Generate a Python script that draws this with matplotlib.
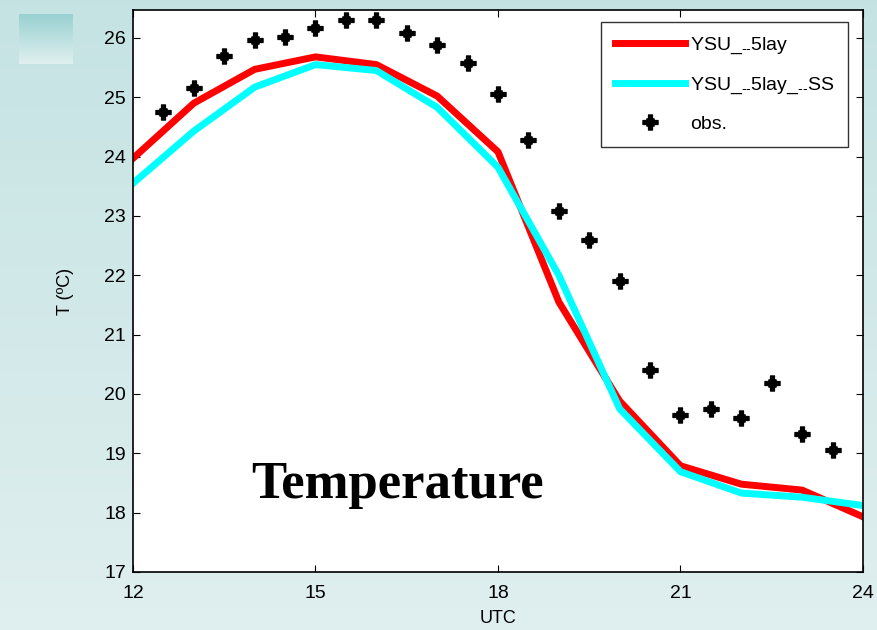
import numpy as np
import matplotlib
matplotlib.use("Agg")
import matplotlib.pyplot as plt
from matplotlib.path import Path

plt.rcParams["font.family"] = ["Liberation Sans", "DejaVu Sans"]
plt.rcParams["mathtext.fontset"] = "custom"
plt.rcParams["mathtext.rm"] = "Liberation Sans"

# model output, hourly
hours = [12, 13, 14, 15, 16, 17, 18, 19, 20, 21, 22, 23, 24]
t_ysu = [23.97, 24.9, 25.47, 25.68, 25.55, 25.02, 24.08, 21.55, 19.88, 18.79, 18.48, 18.38, 17.93]
t_ysu_ss = [23.55, 24.43, 25.17, 25.55, 25.45, 24.83, 23.82, 22.0, 19.75, 18.69, 18.33, 18.26, 18.12]

# observations, half-hourly
obs_hours = [12.5, 13, 13.5, 14, 14.5, 15, 15.5, 16, 16.5, 17, 17.5, 18,
             18.5, 19, 19.5, 20, 20.5, 21, 21.5, 22, 22.5, 23, 23.5]
t_obs = [24.75, 25.15, 25.69, 25.97, 26.02, 26.17, 26.3, 26.3, 26.08, 25.88, 25.58, 25.06,
         24.28, 23.08, 22.59, 21.9, 20.4, 19.65, 19.74, 19.6, 20.19, 19.32, 19.05]

# marker: thick plus with bumped corners (looks like matlab's bold "*")
h = 0.27
q = [(h, 1.0), (h, 0.5), (0.48, 0.48), (0.5, h), (1.0, h)]
pts = []
for sx, sy, flip in [(1, 1, False), (1, -1, True), (-1, -1, False), (-1, 1, True)]:
    quad = [(sx * x, sy * y) for x, y in q]
    pts += quad[::-1] if flip else quad
pts.append(pts[0])
star = Path(pts, closed=True)

fig = plt.figure(figsize=(8.78, 6.3), dpi=100)

# background gradient
bg = fig.add_axes([0, 0, 1, 1], zorder=-10)
grad = np.linspace(0, 1, 256).reshape(-1, 1)
top = np.array([0.773, 0.890, 0.890])
bot = np.array([0.878, 0.937, 0.937])
img = top + (bot - top) * grad[:, :, None]
bg.imshow(img, aspect="auto", extent=[0, 1, 0, 1])
bg.axis("off")

# small decorative square
sq = fig.add_axes([19 / 878, 1 - 64 / 630, 54 / 878, 50 / 630], zorder=-5)
sq_top = np.array([0.60, 0.82, 0.82])
sq_bot = np.array([0.88, 0.94, 0.94])
sq.imshow(sq_top + (sq_bot - sq_top) * grad[:, :, None], aspect="auto", extent=[0, 1, 0, 1])
sq.axis("off")

ax = fig.add_axes([133 / 878, 1 - 572 / 630, 730 / 878, 562 / 630])
ax.set_facecolor("white")

sub = "$_{\\text{--}}$"
ax.plot(hours, t_ysu, color="red", lw=5, label="YSU_" + sub + "5lay")
ax.plot(hours, t_ysu_ss, color="cyan", lw=5, label="YSU_" + sub + "5lay_" + sub + "SS")
ax.plot(obs_hours, t_obs, ls="none", marker=star, ms=11, color="black",
        mec="black", mew=0.8, label="obs.")

ax.set_xlim(12, 24)
ax.set_ylim(17, 26.47)
ax.set_xticks([12, 15, 18, 21, 24])
ax.set_yticks(range(17, 27))
ax.tick_params(direction="in", top=True, right=True, labelsize=14, length=5, width=0.8)
ax.tick_params(axis="x", pad=9)
ax.tick_params(axis="y", pad=5)
ax.set_xlabel("UTC", fontsize=13, labelpad=6)
ax.set_ylabel("T (ºC)", fontsize=13, labelpad=22)
for s in ax.spines.values():
    s.set_linewidth(1.2)

ax.text(16.34, 18.47, "Temperature", fontsize=38, fontweight="bold",
        family="Liberation Serif", ha="center", va="center")

leg = ax.legend(loc="upper right", fontsize=14, frameon=True, fancybox=False,
                edgecolor="black", handlelength=3.6, handletextpad=0.25,
                borderpad=0.7, labelspacing=1.0, borderaxespad=0,
                bbox_to_anchor=(0.979, 0.978))
leg.get_frame().set_linewidth(1.0)

fig.savefig("out.png", dpi=100)
